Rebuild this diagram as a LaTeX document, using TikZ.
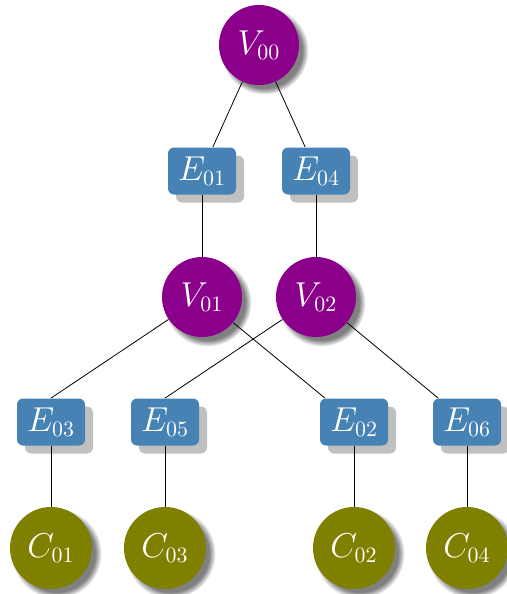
\documentclass[tikz,border=0pt]{standalone}
\usepackage{amsmath}
\usetikzlibrary{shadows}
\definecolor{vpurple}{HTML}{8B008B}
\definecolor{eblue}{HTML}{4682B4}
\definecolor{colive}{HTML}{808000}
\definecolor{shadowgray}{HTML}{C0C0C0}

\begin{document}
\begin{tikzpicture}[x=0.5pt,y=-0.5pt,font=\fontsize{16}{19}\selectfont,
  vnode/.style={circle,fill=vpurple,text=white,minimum size=40pt,inner sep=0pt,
    circular drop shadow={shadow xshift=2.5pt,shadow yshift=-2.5pt}},
  cnode/.style={circle,fill=colive,text=white,minimum size=41pt,inner sep=0pt,
    circular drop shadow={shadow xshift=2.5pt,shadow yshift=-2.5pt}},
  enode/.style={rectangle,rounded corners=3pt,fill=eblue,text=white,minimum width=34pt,
    minimum height=23.5pt,inner sep=0pt,
    drop shadow={shadow xshift=4pt,shadow yshift=-4pt,fill=shadowgray,opacity=1}}]
  \useasboundingbox (0,0) rectangle (507,594);

  \node[vnode] (v00) at (259,45) {$V_{00}$};
  \node[enode] (e01) at (202,171) {$E_{01}$};
  \node[enode] (e04) at (316,171) {$E_{04}$};
  \node[vnode] (v01) at (202,297) {$V_{01}$};
  \node[vnode] (v02) at (316,297) {$V_{02}$};

  \node[enode] (e03) at (51,422) {$E_{03}$};
  \node[enode] (e05) at (165,422) {$E_{05}$};
  \node[enode] (e02) at (354,422) {$E_{02}$};
  \node[enode] (e06) at (467,422) {$E_{06}$};

  \node[cnode] (c01) at (51,548) {$C_{01}$};
  \node[cnode] (c03) at (165,548) {$C_{03}$};
  \node[cnode] (c02) at (354,548) {$C_{02}$};
  \node[cnode] (c04) at (467,548) {$C_{04}$};

  \draw (v00) -- (e01);
  \draw (v00) -- (e04);
  \draw (e01) -- (v01);
  \draw (e04) -- (v02);
  \draw (v01) -- (e03.north);
  \draw (v01) -- (e02);
  \draw (v02) -- (e05.north);
  \draw (v02) -- (e06);
  \draw (e03) -- (c01);
  \draw (e05) -- (c03);
  \draw (e02) -- (c02);
  \draw (e06) -- (c04);
\end{tikzpicture}
\end{document}
